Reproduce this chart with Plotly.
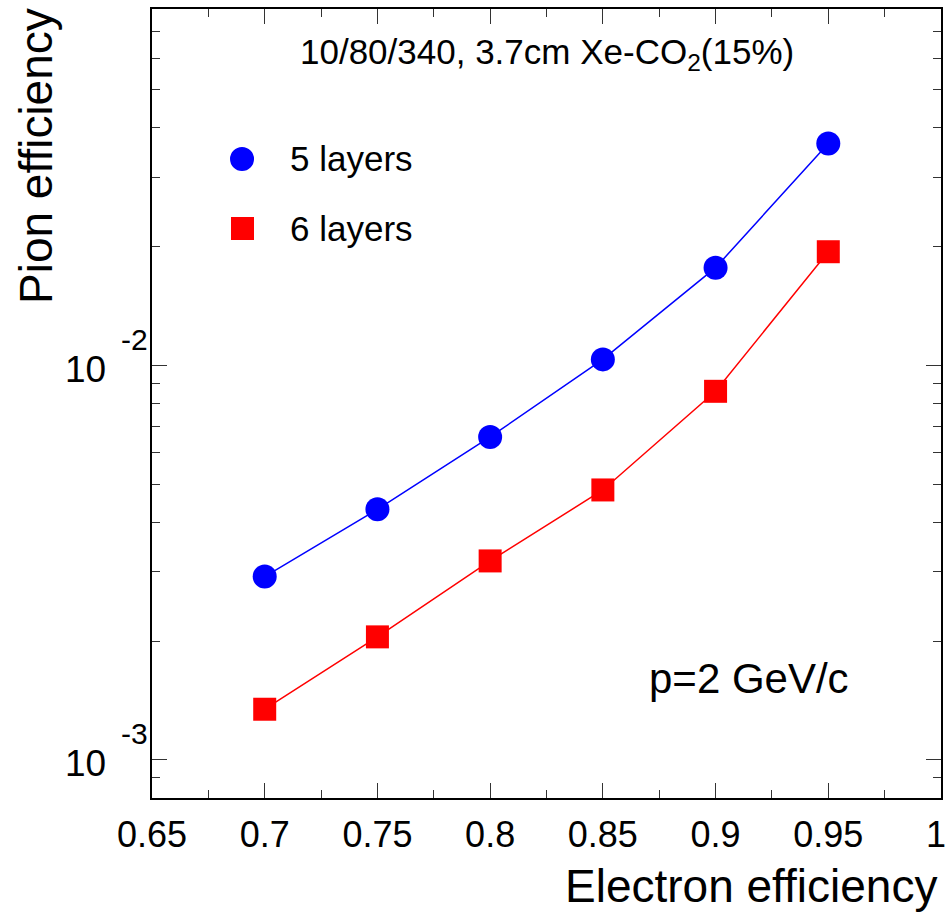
import math
import plotly.graph_objects as go

# ---------------- data ----------------
electron_eff = [0.70, 0.75, 0.80, 0.85, 0.90, 0.95]
pion_eff_5layers = [0.002913, 0.004314, 0.00658, 0.01035, 0.01768, 0.0365]
pion_eff_6layers = [0.001343, 0.002049, 0.003192, 0.00483, 0.00859, 0.0194]
series_names = ["5 layers", "6 layers"]
x_tick_vals = [0.65, 0.70, 0.75, 0.80, 0.85, 0.90, 0.95, 1.0]
x_tick_text = ["0.65", "0.7", "0.75", "0.8", "0.85", "0.9", "0.95", "1&nbsp;"]
x_minor_vals = [0.675, 0.725, 0.775, 0.825, 0.875, 0.925, 0.975]
y_major_vals = [0.001, 0.01]
y_major_exp = ["-3", "-2"]
y_minor_vals = [0.0009] + [k * 0.001 for k in range(2, 10)] + [k * 0.01 for k in range(2, 9)]
header_text = "10/80/340, 3.7cm Xe-CO<sub>2</sub>(15%)"
momentum_text = "p=2 GeV/c"
x_title = "Electron efficiency"
y_title = "Pion efficiency"

FONT = "Liberation Sans, Arial, Helvetica, sans-serif"
BLUE = "#0000ff"
RED = "#ff0000"

fig = go.Figure()
fig.add_trace(go.Scatter(
    x=electron_eff, y=pion_eff_5layers, mode="lines+markers", name=series_names[0],
    line=dict(color=BLUE, width=1.5),
    marker=dict(symbol="circle", size=24, color=BLUE, line=dict(width=0)),
    showlegend=False))
fig.add_trace(go.Scatter(
    x=electron_eff, y=pion_eff_6layers, mode="lines+markers", name=series_names[1],
    line=dict(color=RED, width=1.5),
    marker=dict(symbol="square", size=23, color=RED, line=dict(width=0)),
    showlegend=False))

W, H = 948, 918
ML, MR, MT, MB = 152, 7, 9, 120

fig.update_layout(
    width=W, height=H,
    margin=dict(l=ML, r=MR, t=MT, b=MB, pad=0, autoexpand=False),
    paper_bgcolor="white", plot_bgcolor="white",
    font=dict(family=FONT, color="black"),
    showlegend=False,
)

fig.update_xaxes(
    range=[0.65, 1.0], automargin=False,
    tickmode="array", tickvals=x_tick_vals, ticktext=x_tick_text,
    ticks="inside", ticklen=15, tickwidth=1, tickcolor="#333333",
    minor=dict(tickmode="array", tickvals=x_minor_vals, ticks="inside",
               ticklen=8, tickwidth=1, tickcolor="#333333", showgrid=False),
    showline=True, linecolor="black", linewidth=2, mirror="allticks",
    showgrid=False, zeroline=False,
    tickfont=dict(size=36, family=FONT, color="black"),
    ticklabelstandoff=4, ticklabeloverflow="allow",
)
fig.update_yaxes(
    type="log", automargin=False,
    range=[math.log10(0.0008), math.log10(0.08)],
    tickmode="array", tickvals=y_major_vals,
    ticks="inside", ticklen=15, tickwidth=1, tickcolor="#333333",
    minor=dict(tickmode="array", tickvals=y_minor_vals, ticks="inside",
               ticklen=8, tickwidth=1, tickcolor="#333333", showgrid=False),
    showline=True, linecolor="black", linewidth=2, mirror="allticks",
    showgrid=False, zeroline=False, showticklabels=False,
)

ann = []
# y tick labels in ROOT style: 10 with raised exponent
for v, e in zip(y_major_vals, y_major_exp):
    ly = math.log10(v)
    ann.append(dict(xref="paper", yref="y", x=0, y=ly, xanchor="center", yanchor="middle",
                    xshift=-67, yshift=-4, text="10", showarrow=False,
                    font=dict(size=37, family=FONT, color="black")))
    ann.append(dict(xref="paper", yref="y", x=0, y=ly, xanchor="center", yanchor="middle",
                    xshift=-18, yshift=26, text=e, showarrow=False,
                    font=dict(size=30, family=FONT, color="black")))

# axis titles
ann.append(dict(xref="paper", yref="paper", x=1, y=0, xanchor="right", yanchor="top",
                xshift=-2, yshift=-60, text=x_title, showarrow=False,
                font=dict(size=46, family=FONT, color="black")))
ann.append(dict(xref="paper", yref="paper", x=0, y=1, xanchor="center", yanchor="top",
                xshift=-116, yshift=3, text=y_title, textangle=-90, showarrow=False,
                font=dict(size=46, family=FONT, color="black")))

# header and momentum text
ann.append(dict(xref="paper", yref="paper", x=0.5, y=0.943, xanchor="center", yanchor="middle",
                text=header_text, showarrow=False,
                font=dict(size=35, family=FONT, color="black")))
ann.append(dict(xref="paper", yref="paper", x=0.757, y=0.152, xanchor="center", yanchor="middle",
                text=momentum_text, showarrow=False,
                font=dict(size=42, family=FONT, color="black")))

# legend text
ann.append(dict(xref="paper", yref="paper", x=0.1825, y=0.8099, xanchor="left", yanchor="middle",
                xshift=-8, text=series_names[0], showarrow=False,
                font=dict(size=35, family=FONT, color="black")))
ann.append(dict(xref="paper", yref="paper", x=0.1825, y=0.7218, xanchor="left", yanchor="middle",
                xshift=-8, text=series_names[1], showarrow=False,
                font=dict(size=35, family=FONT, color="black")))

fig.update_layout(annotations=ann)

# legend keys
shapes = [
    dict(type="circle", xref="paper", yref="paper", xsizemode="pixel", ysizemode="pixel",
         xanchor=0.1141, yanchor=0.8099, x0=-12, x1=12, y0=-12, y1=12,
         fillcolor=BLUE, line=dict(width=0)),
    dict(type="rect", xref="paper", yref="paper", xsizemode="pixel", ysizemode="pixel",
         xanchor=0.1147, yanchor=0.7218, x0=-11.5, x1=11.5, y0=-11.5, y1=11.5,
         fillcolor=RED, line=dict(width=0)),
]
fig.update_layout(shapes=shapes)

fig.write_html("out.html")
